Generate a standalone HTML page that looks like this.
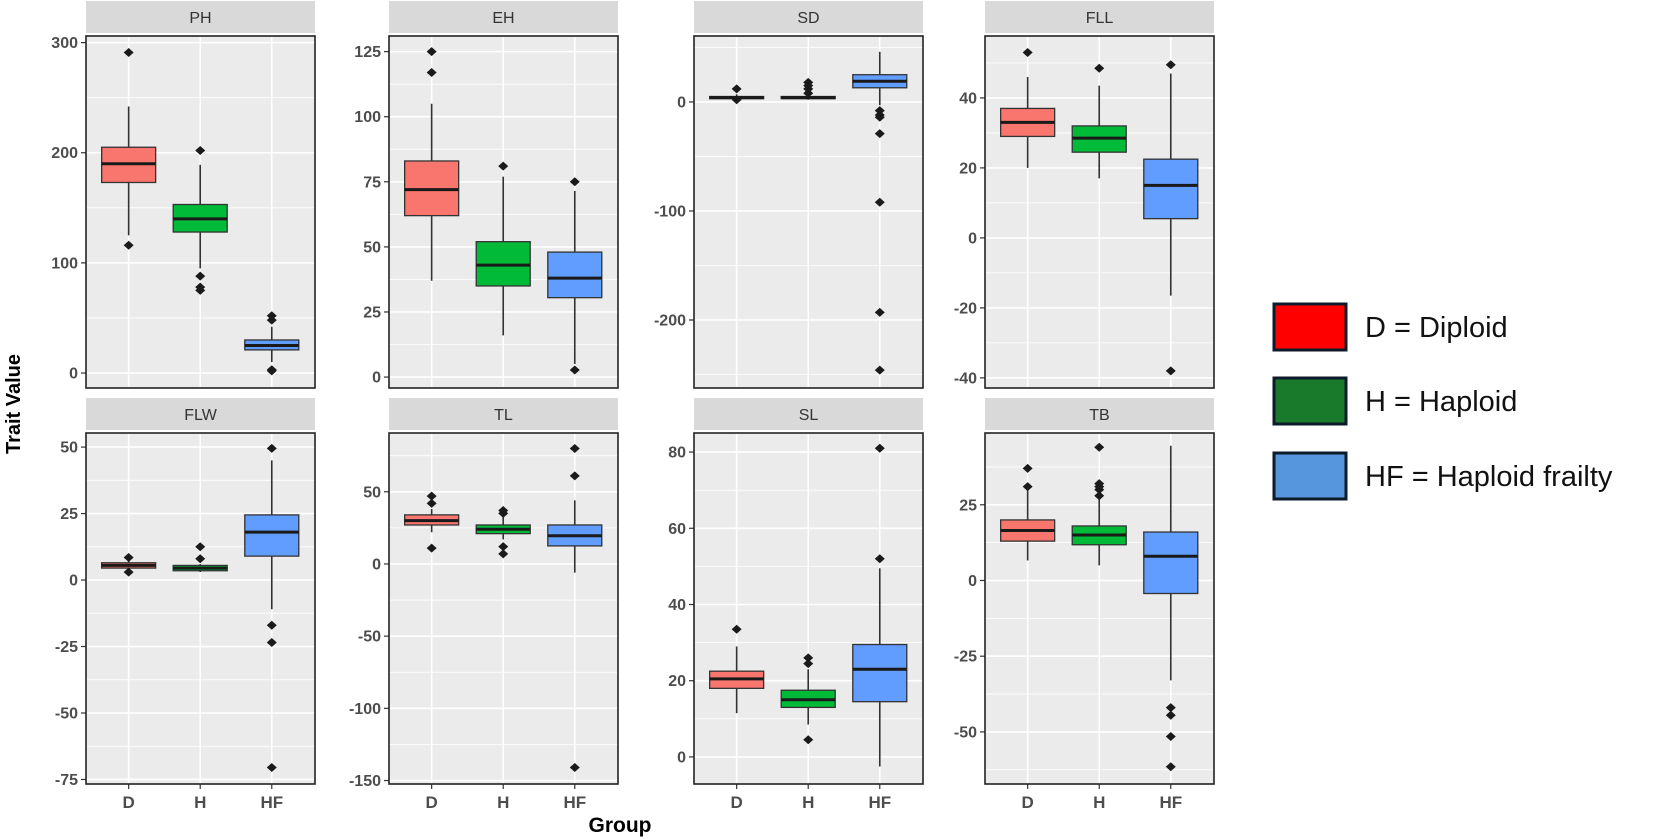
<!DOCTYPE html>
<html><head><meta charset="utf-8"><style>
html,body{margin:0;padding:0;background:#fff;}
svg{display:block;font-family:"Liberation Sans",Arial,sans-serif;}
</style></head><body>
<svg id="chart" width="1654" height="839" viewBox="0 0 1654 839" xmlns="http://www.w3.org/2000/svg">
<text x="0" y="0" transform="translate(20,404) rotate(-90)" text-anchor="middle" font-size="20" font-weight="bold" fill="#000">Trait Value</text>
<text x="620" y="832" text-anchor="middle" font-size="21" font-weight="bold" fill="#000">Group</text>
<g>
 <rect x="1274" y="304" width="72" height="46" fill="#ff0000" stroke="#0d1b2a" stroke-width="3"/>
 <text x="1365" y="337" font-size="29" fill="#111">D = Diploid</text>
 <rect x="1274" y="378" width="72" height="46" fill="#1a7a2c" stroke="#0d1b2a" stroke-width="3"/>
 <text x="1365" y="411" font-size="29" fill="#111">H = Haploid</text>
 <rect x="1274" y="453" width="72" height="46" fill="#5596dc" stroke="#0d1b2a" stroke-width="3"/>
 <text x="1365" y="486" font-size="29" fill="#111">HF = Haploid frailty</text>
</g>
</svg>
<script>
const groups = ["D","H","HF"];
const traits = ["PH","EH","SD","FLL","FLW","TL","SL","TB"];
const domains = [[-13.6,306],[-4.2,131],[-262.4,60.5],[-42.9,57.7],[-76.7,55.3],[-152.4,90.7],[-7.1,85],[-67.2,48.7]];
const ticks = [[0,100,200,300],[0,25,50,75,100,125],[-200,-100,0],[-40,-20,0,20,40],[-75,-50,-25,0,25,50],[-150,-100,-50,0,50],[0,20,40,60,80],[-50,-25,0,25]];
// [lowWhisker, q1, median, q3, highWhisker] per group
const statsPH  = [[125,173,190,205,242],[95,128,140,153,189],[10,21,25,30,42]];
const statsEH  = [[37,62,72,83,105],[16,35,43,52,77],[5,30.5,38,48,71.5]];
const statsSD  = [[2,3,4,5,7],[2,3,4,5,7],[-3,13,19,25,46]];
const statsFLL = [[20,29,33,37,46],[17,24.5,28.5,32,43.5],[-16.5,5.5,15,22.5,47]];
const statsFLW = [[3,4.5,5.5,6.5,8],[3,3.5,4.5,5.5,6],[-11,9,18,24.5,45]];
const statsTL  = [[22,27,30,34,38],[17,21,24,27,33],[-6,12.5,19.5,27,44]];
const statsSL  = [[11.5,18,20.5,22.5,29],[8.5,13,15,17.5,23],[-2.5,14.5,23,29.5,49.5]];
const statsTB  = [[6.6,13,16.5,20,30],[5,11.8,15,18,27],[-33,-4.3,8,16,44.5]];
const outPH  = [[291,116],[202,88,78,75],[52,48,3,2]];
const outEH  = [[125,117],[81],[75,2.7]];
const outSD  = [[12,2],[18,15,12,8],[-8,-12,-14,-29,-92,-193,-246]];
const outFLL = [[53],[48.5],[49.5,-38]];
const outFLW = [[8.5,3],[12.5,8],[49.5,-17,-23.5,-70.5]];
const outTL  = [[47,42,11],[37,35,12,7],[80,61,-141]];
const outSL  = [[33.5],[26,24.5,4.5],[81,52]];
const outTB  = [[37,31],[44,32,31,30,28],[-42,-44.5,-51.5,-61.5]];
const allStats = [statsPH,statsEH,statsSD,statsFLL,statsFLW,statsTL,statsSL,statsTB];
const allOut = [outPH,outEH,outSD,outFLL,outFLW,outTL,outSL,outTB];

const NS="http://www.w3.org/2000/svg";
const svg=document.getElementById('chart');
const fills=["#f8766d","#00ba38","#619cff"];
const colX=[86,389,694,985], panelW=229;
const rows=[{strip:1,top:36,bot:388},{strip:398,top:433,bot:784}];
function mk(tag,attrs,parent){const e=document.createElementNS(NS,tag);for(const k in attrs)e.setAttribute(k,attrs[k]);(parent||svg).appendChild(e);return e;}

traits.forEach((t,i)=>{
  const r=rows[Math.floor(i/4)], x0=colX[i%4], x1=x0+panelW;
  const [dmin,dmax]=domains[i];
  const y=v=>r.bot-(v-dmin)/(dmax-dmin)*(r.bot-r.top);
  const xs=k=>x0+panelW*(0.5+k)/3.2+panelW*0.03;
  const g=mk('g',{});
  
  
  const st=mk('rect',{x:x0,y:r.strip,width:panelW,height:32,fill:'#d9d9d9'},g);
  
  
  const stt=mk('text',{x:x0+panelW/2,y:r.strip+22,'text-anchor':'middle','font-size':16,fill:'#333'},g);
  stt.textContent=t;
  
  
  mk('rect',{x:x0,y:r.top,width:panelW,height:r.bot-r.top,fill:'#ebebeb'},g);
  const tk=ticks[i], step=tk[1]-tk[0];
  for(let v=tk[0]-step/2; v<=dmax; v+=step/2){
    if(v<dmin) continue;
    const major=tk.includes(v);
    mk('line',{x1:x0,x2:x1,y1:y(v),y2:y(v),stroke:'#fff','stroke-width':major?1.6:0.8},g);
  }
  groups.forEach((gn,k)=>mk('line',{x1:xs(k),x2:xs(k),y1:r.top,y2:r.bot,stroke:'#fff','stroke-width':1.6},g));
  tk.forEach(v=>{
    mk('line',{x1:x0-5,x2:x0,y1:y(v),y2:y(v),stroke:'#333','stroke-width':1.2},g);
    const tl=mk('text',{x:x0-8,y:y(v)+5.5,'text-anchor':'end','font-size':16,'font-weight':'bold',fill:'#4d4d4d'},g);
    tl.textContent=v;
    
    
  });
  groups.forEach((gn,k)=>{
    const s=allStats[i][k], cx=xs(k), hw=27;
    const bg=mk('g',{},g);
    
    
    mk('line',{x1:cx,x2:cx,y1:y(s[0]),y2:y(s[4]),stroke:'#333','stroke-width':1.6},bg);
    mk('rect',{x:cx-hw,y:y(s[3]),width:2*hw,height:Math.max(1,y(s[1])-y(s[3])),fill:fills[k],stroke:'#333','stroke-width':1.3},bg);
    mk('line',{x1:cx-hw,x2:cx+hw,y1:y(s[2]),y2:y(s[2]),stroke:'#1a1a1a','stroke-width':3},bg);
    allOut[i][k].forEach(o=>{
      const oy=y(o);
      const p=mk('polygon',{points:`${cx},${oy-4.5} ${cx+5},${oy} ${cx},${oy+4.5} ${cx-5},${oy}`,fill:'#1a1a1a'},bg);
      
      
    });
    if(r.top>400){
      mk('line',{x1:cx,x2:cx,y1:r.bot,y2:r.bot+5,stroke:'#333','stroke-width':1.2},g);
      const xl=mk('text',{x:cx,y:r.bot+24,'text-anchor':'middle','font-size':17,'font-weight':'bold',fill:'#4d4d4d'},g);
      xl.textContent=gn;
      
      
    }
  });
  mk('rect',{x:x0,y:r.top,width:panelW,height:r.bot-r.top,fill:'none',stroke:'#222','stroke-width':1.6},g);
});
</script>
</body></html>
